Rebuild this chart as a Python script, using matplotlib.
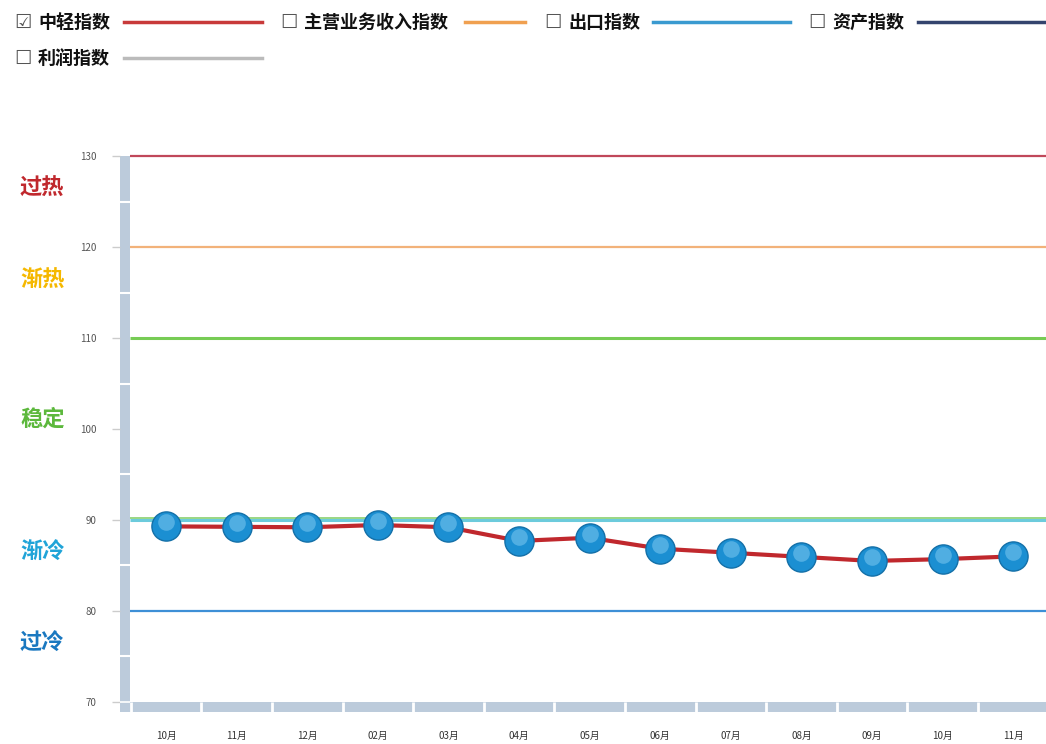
import matplotlib.pyplot as plt
from matplotlib.lines import Line2D
from matplotlib import transforms

plt.rcParams["font.family"] = ["Noto Sans CJK SC", "DejaVu Sans"]

# =========================
# Data
# =========================
months = ["10月", "11月", "12月", "02月", "03月", "04月", "05月",
          "06月", "07月", "08月", "09月", "10月", "11月"]
index_values = [89.3, 89.25, 89.2, 89.45, 89.2, 87.7, 88.05,
                86.85, 86.4, 85.95, 85.5, 85.7, 86.0]

# zone boundaries
zone_levels = [130, 120, 110, 90, 80]
zone_colors = ["#c0485a", "#f2b27a", "#77cc55", "#6ccbdc", "#3d8fd6"]

# zone names
zone_names = ["过热", "渐热", "稳定", "渐冷", "过冷"]
zone_name_y = [126.4, 116.3, 101.1, 86.4, 76.4]
zone_name_colors = ["#c0282d", "#f5b800", "#5cb83c", "#20a4d8", "#1a78c0"]

# legend entries
legend_labels = ["中轻指数", "主营业务收入指数", "出口指数", "资产指数", "利润指数"]
legend_colors = ["#c83a3a", "#f0a050", "#3a9ad0", "#34446e", "#bbbbbb"]
legend_checked = [True, False, False, False, False]

W, H = 1046, 744
fig = plt.figure(figsize=(W / 100, H / 100), dpi=100)

# axes placed in pixel coordinates
ax_l, ax_r, ax_t, ax_b = 120, 1046, 150, 712
ax = fig.add_axes([ax_l / W, 1 - ax_b / H, (ax_r - ax_l) / W, (ax_b - ax_t) / H])

px_per_cat = 70.6
x0_px = 166
xmin = (ax_l - x0_px) / px_per_cat
xmax = (ax_r - x0_px) / px_per_cat
px_per_unit = 9.1
y130_px = 156
ymax = 130 + (y130_px - ax_t) / px_per_unit
ymin = 130 - (ax_b - y130_px) / px_per_unit
ax.set_xlim(xmin, xmax)
ax.set_ylim(ymin, ymax)

band_color = "#bccbdb"
band_right = -0.51
# left axis band
ax.axvspan(xmin, band_right, ymax=(130 - ymin) / (ymax - ymin), color=band_color, zorder=1, lw=0)
ax.hlines([75, 85, 95, 105, 115, 125], xmin, band_right, colors="white", lw=1.5, zorder=2)
ax.hlines([70.05], xmin, band_right, colors="white", lw=1.2, zorder=2)
# bottom axis band
ax.axhspan(ymin, 70, xmin=(band_right - xmin) / (xmax - xmin), color=band_color, zorder=1, lw=0)
ax.vlines([i + 0.5 for i in range(-1, 13)], ymin, 70, colors="white", lw=2, zorder=2)

# zone lines
for lvl, col in zip(zone_levels, zone_colors):
    lw = 2.2 if lvl in (110, 90) else 1.6
    ax.hlines(lvl, band_right, xmax, colors=col, lw=lw, zorder=3)
ax.hlines(90.2, band_right, xmax, colors="#88d070", lw=1.2, zorder=3)

# series
x = list(range(len(months)))
ax.plot(x, index_values, color="#c0282d", lw=3, zorder=4, solid_capstyle="round")
ax.plot(x, index_values, linestyle="none", marker="o", markersize=21,
        markerfacecolor="#1b8fd2", markeredgecolor="#1470a8", markeredgewidth=1, zorder=5)
hl = transforms.offset_copy(ax.transData, fig=fig, x=0, y=4, units="dots")
ax.plot(x, index_values, linestyle="none", marker="o", markersize=12,
        markerfacecolor="#7cc8f0", markeredgecolor="none", alpha=0.55, zorder=6, transform=hl)

# zone names
name_tr = transforms.blended_transform_factory(fig.transFigure, ax.transData)
for name, yy, col in zip(zone_names, zone_name_y, zone_name_colors):
    ax.text(20 / W, yy, name, color=col, fontsize=16, fontweight="bold",
            va="center", ha="left", transform=name_tr, clip_on=False)

# ticks
ax.set_yticks([70, 80, 90, 100, 110, 120, 130])
ax.set_xticks(x)
ax.set_xticklabels(months)
ax.tick_params(axis="y", direction="out", length=6, width=1, color="#cccccc",
               labelsize=7, labelcolor="#555555", pad=11)
ax.tick_params(axis="x", length=0, labelsize=7, labelcolor="#333333", pad=14)
for s in ax.spines.values():
    s.set_visible(False)

# =========================
# Legend at top
# =========================
legend_pos = [(14, 22, 124, 262), (280, 22, 465, 525), (544, 22, 653, 790),
              (808, 22, 918, 1046), (14, 58, 124, 262)]
for (bx, by, lx0, lx1), lab, col, chk in zip(legend_pos, legend_labels, legend_colors, legend_checked):
    fig.text(bx / W, 1 - by / H, "☑" if chk else "☐", family="DejaVu Sans",
             fontsize=14, color="#555555", va="center", ha="left")
    fig.text((bx + 24) / W, 1 - by / H, lab, fontsize=13, fontweight="bold",
             color="#111111", va="center", ha="left")
    fig.add_artist(Line2D([lx0 / W, lx1 / W], [1 - by / H, 1 - by / H],
                          transform=fig.transFigure, color=col, lw=2.5))

fig.savefig("out.png", dpi=100)
